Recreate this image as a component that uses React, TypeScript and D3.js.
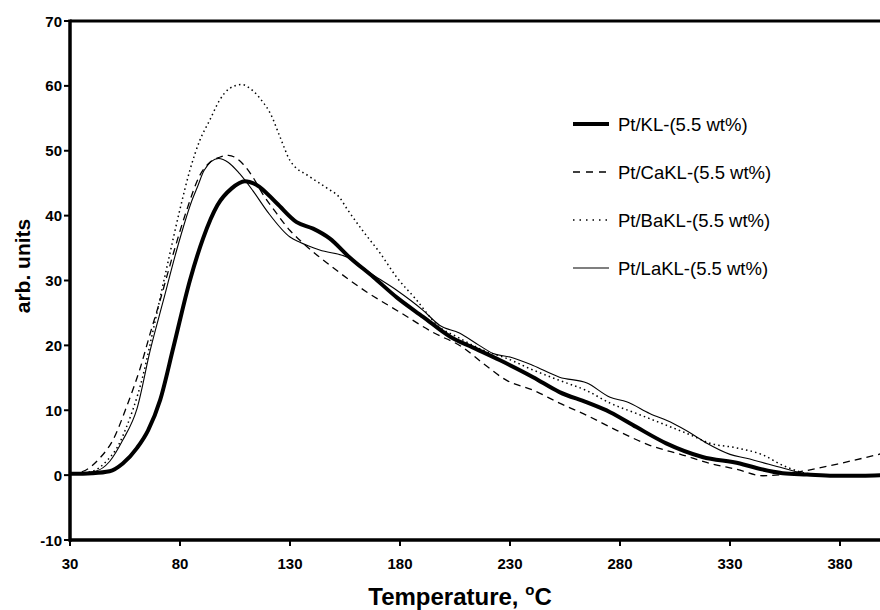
import React from "react";
import * as d3 from "d3";

// ---- data ----
const xTicks = [30, 80, 130, 180, 230, 280, 330, 380];
const yTicks = [-10, 0, 10, 20, 30, 40, 50, 60, 70];

const klTemp = [30, 40, 48, 54, 60.5, 65.5, 71, 77, 84.5, 90.5, 97, 103.5, 109.5, 115, 124, 133, 140.5, 148, 157, 168, 178.5, 190.5, 203, 213, 225.5, 240.5, 252.5, 265, 275.5, 287.5, 301, 317.5, 334.5, 342, 354, 365, 377, 390, 400];
const klVal = [0.2, 0.3, 0.6, 1.8, 4.2, 6.9, 11.6, 19.7, 30, 36.5, 41.6, 44.2, 45.3, 44.7, 41.9, 39, 38, 36.5, 33.6, 30.5, 27.4, 24.4, 21.3, 19.7, 17.7, 15.1, 12.8, 11.2, 9.7, 7.4, 4.9, 2.8, 1.8, 1.1, 0.3, 0.1, -0.1, -0.1, 0];

const caTemp = [30, 36, 43.5, 49.5, 56, 62, 66.5, 71, 77, 83, 89, 93.5, 98, 102, 108.5, 113, 117.5, 124, 130, 134.5, 149.5, 165, 180, 195, 208.5, 217.5, 228.5, 240.5, 252.5, 265, 278.5, 293.5, 308.5, 321, 333, 345, 354, 363, 380, 400];
const caVal = [0.2, 0.6, 2.6, 5.4, 10.8, 16.6, 21.9, 27, 34.2, 40.8, 46.2, 48.2, 49, 49.3, 48, 46, 43.4, 40.3, 37.7, 36.2, 32, 28.2, 25.1, 22, 19.7, 17.3, 14.6, 13.1, 11.1, 9.2, 6.9, 4.6, 3.1, 1.8, 0.9, -0.1, 0.1, 0.6, 1.8, 3.4];

const baTemp = [30, 40, 47, 52, 56, 58.5, 63, 67.5, 74, 80, 84.5, 89, 93.5, 98, 102.5, 108, 113, 117, 121, 125.5, 130, 139, 147, 152.5, 156, 163, 171, 178.5, 187, 198, 206, 217.5, 228.5, 240.5, 252.5, 265, 275.5, 287.5, 301, 312, 321, 333, 345, 354, 362, 370];
const baVal = [0.2, 0.6, 2.3, 4.6, 7.7, 10, 15.1, 21.9, 32, 41, 47, 51.6, 54.7, 57.8, 59.6, 60.2, 59.3, 57.8, 55.8, 52.1, 48.5, 46, 44.2, 42.8, 41, 37.7, 34.2, 30.5, 27.2, 22.8, 21.3, 19.3, 18, 16.2, 14.6, 13.0, 11.1, 9.5, 7.7, 6.2, 4.9, 4.2, 3.1, 1.5, 0.5, 0];

const laTemp = [30, 41.5, 48, 54, 60.5, 66.5, 72.5, 78.5, 85.5, 88, 91, 97.5, 102, 107, 113, 120, 130, 134.5, 143.5, 156, 168, 178.5, 190.5, 198, 207, 216, 222, 230, 240.5, 252.5, 265, 275.5, 283, 293.5, 304, 312, 319.5, 330, 337.5, 354, 363, 370];
const laVal = [0.2, 0.6, 2.1, 5.4, 10.3, 19.3, 27, 34.7, 42.4, 44.5, 47, 48.8, 48.2, 46.5, 43.9, 40.5, 36.7, 35.9, 34.7, 33.6, 30.8, 28.5, 25.4, 23.1, 21.9, 20, 18.8, 18.2, 16.9, 15.1, 14.2, 12.0, 11.3, 9.5, 8, 6.5, 4.9, 3.2, 2.6, 1.1, 0.3, 0];

const seriesNames = ["Pt/KL-(5.5 wt%)", "Pt/CaKL-(5.5 wt%)", "Pt/BaKL-(5.5 wt%)", "Pt/LaKL-(5.5 wt%)"];

// ---- styling ----
const styles = [
  { width: 4, dash: "none" },
  { width: 1.3, dash: "7,5" },
  { width: 1.5, dash: "1.5,3.2" },
  { width: 1.1, dash: "none" },
];
const legendDash = ["none", "7,6", "1.5,5", "none"];

const W = 880;
const H = 610;
const left = 70;
const top = 21;
const bottom = 540;
const FONT = "'Liberation Sans', Arial, sans-serif";

export default function App() {
  const x = d3.scaleLinear().domain([30, 400]).range([left, 884]);
  const y = d3.scaleLinear().domain([-10, 70]).range([bottom, top]);

  const temps = [klTemp, caTemp, baTemp, laTemp];
  const vals = [klVal, caVal, baVal, laVal];

  const line = d3
    .line<[number, number]>()
    .x((d) => x(d[0]))
    .y((d) => y(d[1]))
    .curve(d3.curveMonotoneX);

  const paths = temps.map((t, i) => line(t.map((tt, j) => [tt, vals[i][j]] as [number, number])) || "");

  const legendY = [124, 172, 220, 268];

  return (
    <div style={{ position: "fixed", left: 0, top: 0 }}>
      <svg width={W} height={H} style={{ display: "block", background: "#fff" }}>
        <defs>
          <clipPath id="plot">
            <rect x={left} y={top} width={W - left} height={bottom - top} />
          </clipPath>
        </defs>

        {/* series */}
        <g clipPath="url(#plot)">
          {paths.map((p, i) => (
            <path
              key={i}
              d={p}
              fill="none"
              stroke="#000"
              strokeWidth={styles[i].width}
              strokeDasharray={styles[i].dash}
              strokeLinejoin="round"
            />
          ))}
        </g>

        {/* frame/axes */}
        <line x1={left} x2={W} y1={top} y2={top} stroke="#000" strokeWidth={3} />
        <line x1={left} x2={W} y1={bottom} y2={bottom} stroke="#000" strokeWidth={3.5} />
        <line x1={left} x2={left} y1={top - 1.5} y2={bottom + 1.75} stroke="#000" strokeWidth={3.5} />

        {/* y ticks */}
        {yTicks.map((t) => (
          <g key={"y" + t}>
            <line x1={left - 6} x2={left} y1={y(t)} y2={y(t)} stroke="#000" strokeWidth={2} />
            <text
              x={62}
              y={y(t) + 5.5}
              textAnchor="end"
              fontFamily={FONT}
              fontWeight="bold"
              fontSize={15}
            >
              {t}
            </text>
          </g>
        ))}

        {/* x ticks */}
        {xTicks.map((t) => (
          <g key={"x" + t}>
            <line x1={x(t)} x2={x(t)} y1={bottom} y2={bottom + 6} stroke="#000" strokeWidth={2} />
            <text
              x={x(t)}
              y={569}
              textAnchor="middle"
              fontFamily={FONT}
              fontWeight="bold"
              fontSize={15}
            >
              {t}
            </text>
          </g>
        ))}

        {/* axis titles */}
        <text x={460} y={605} textAnchor="middle" fontFamily={FONT} fontWeight="bold" fontSize={24}>
          <tspan>Temperature, </tspan>
          <tspan dy={-10} fontSize={15}>o</tspan>
          <tspan dy={10}>C</tspan>
        </text>
        <text
          transform={`translate(30, 266) rotate(-90)`}
          textAnchor="middle"
          fontFamily={FONT}
          fontWeight="bold"
          fontSize={21}
        >
          arb. units
        </text>

        {/* legend */}
        {seriesNames.map((name, i) => (
          <g key={name}>
            <line
              x1={573}
              x2={609}
              y1={legendY[i]}
              y2={legendY[i]}
              stroke="#000"
              strokeWidth={styles[i].width}
              strokeDasharray={legendDash[i]}
            />
            <text x={618} y={legendY[i] + 7} fontFamily={FONT} fontSize={18.5}>
              {name}
            </text>
          </g>
        ))}
      </svg>
    </div>
  );
}
